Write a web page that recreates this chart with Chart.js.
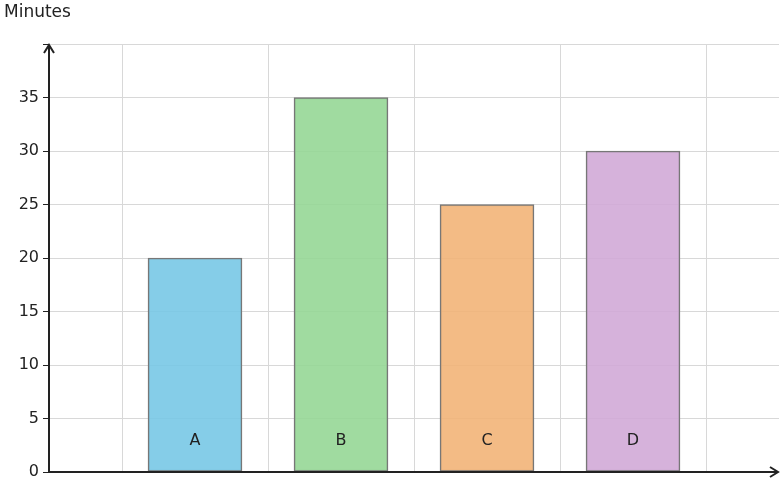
<!DOCTYPE html>
<html><head><meta charset="utf-8">
<script src="https://cdn.jsdelivr.net/npm/chart.js@4"></script>
<style>html,body{margin:0;padding:0;background:#fff}#w{width:781px;height:486px}</style>
</head><body><div id="w"><canvas id="c"></canvas></div>
<script>
const categories = ['A','B','C','D'];
const values = [20,35,25,30];
const colors = ['rgba(120,200,230,0.9)','rgba(150,215,150,0.9)','rgba(242,180,120,0.9)','rgba(210,170,215,0.9)'];
const yTicks = [0,5,10,15,20,25,30,35];
const yTitle = 'Minutes';
const labels = [''].concat(categories, ['']);
const data = [null].concat(values, [null]);
const bg = [null].concat(colors, [null]);
const FONT = 'DejaVu Sans';
const deco = {
  id:'deco',
  afterDraw(ch){
    const c=ch.ctx, a=ch.chartArea, x=ch.scales.x;
    c.save();
    c.fillStyle='#222'; c.font='16px "'+FONT+'"'; c.textBaseline='middle'; c.textAlign='center';
    categories.forEach((t,i)=>c.fillText(t, x.getPixelForValue(i+1), 441));
    c.textAlign='left'; c.font='17px "'+FONT+'"'; c.fillText(yTitle,4,13);
    c.strokeStyle='#222'; c.lineWidth=2;
    c.beginPath(); c.moveTo(a.left,a.bottom); c.lineTo(a.right-2,a.bottom);
    c.moveTo(a.left,a.bottom); c.lineTo(a.left,a.top+2); c.stroke();
    c.beginPath(); c.moveTo(a.right-9,a.bottom-5); c.lineTo(a.right-1,a.bottom); c.lineTo(a.right-9,a.bottom+5);
    c.moveTo(a.left-5,a.top+9); c.lineTo(a.left,a.top+1); c.lineTo(a.left+5,a.top+9); c.stroke();
    c.restore();
  }
};
new Chart(document.getElementById('c'),{
  type:'bar',
  data:{labels,datasets:[{data,backgroundColor:bg,borderColor:'#777',borderWidth:1.5,barThickness:94,borderSkipped:false}]},
  options:{responsive:true,maintainAspectRatio:false,animation:false,
    layout:{padding:{left:0,top:44,right:2,bottom:14}},
    plugins:{legend:{display:false},tooltip:{enabled:false}},
    scales:{
      x:{offset:false,grid:{color:'#d8d8d8',drawTicks:false},border:{display:false},ticks:{display:false},afterFit(s){s.height=0;}},
      y:{min:0,max:40,grid:{color:'#d8d8d8',drawTicks:true,tickLength:6,tickColor:'#222'},border:{display:false},
        afterBuildTicks(s){s.ticks=yTicks.concat([40]).map(v=>({value:v}));},
        ticks:{color:'#222',font:{family:FONT,size:16},padding:4,callback:v=>v===40?'':v},
        afterFit(s){s.width=49;}}
    }}
  ,plugins:[deco]});
</script></body></html>
